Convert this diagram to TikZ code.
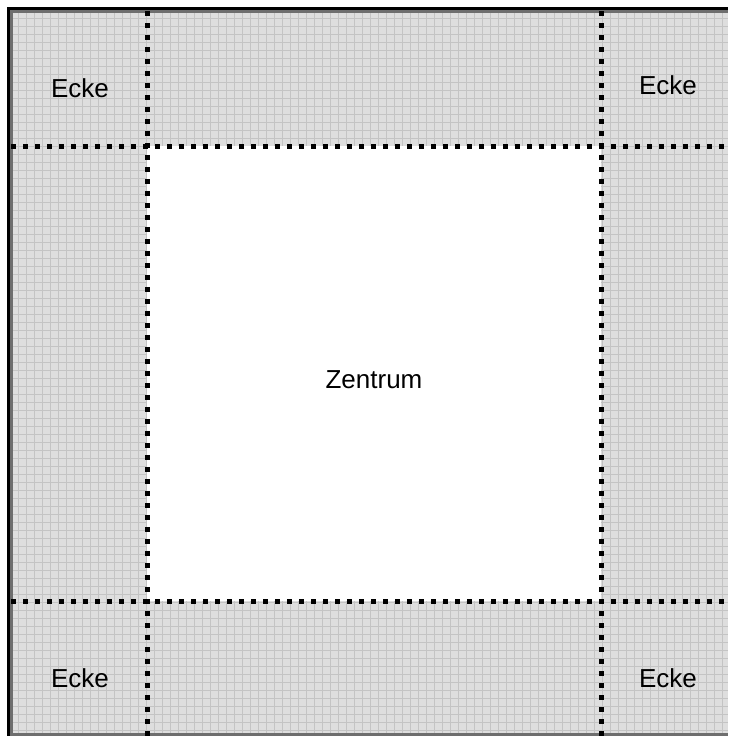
\documentclass[tikz,border=0pt]{standalone}
\usepackage{fontspec}
\setmainfont{Liberation Sans}
\usetikzlibrary{positioning}

\definecolor{tilegray}{RGB}{222,222,222}
\definecolor{gridgray}{RGB}{196,196,196}
\definecolor{bandgray}{RGB}{110,110,110}

\begin{document}
\begin{tikzpicture}[
    x=1pt, y=-1pt,
    divider/.style={line width=5pt, dash pattern=on 5pt off 7pt, black},
    border/.style={line width=3pt},
    gridline/.style={gridgray, line width=0.8pt},
    lbl/.style={font=\fontsize{26}{30}\selectfont, inner sep=0pt},
]
    \useasboundingbox (0,0) rectangle (728,736);

    % Tiled field
    \fill[tilegray] (8,8) rectangle (728,736);
    \foreach \gx in {18,26,...,728}
        \draw[gridline] (\gx,12) -- (\gx,734);
    \foreach \gy in {18,26,...,734}
        \draw[gridline] (12,\gy) -- (728,\gy);

    % Centre area
    \fill[white] (147,146) rectangle (601,601);

    % Frame
    \draw[border, bandgray] (11.5,736) -- (11.5,11.5) -- (728,11.5);
    \draw[border, bandgray] (11,734.5) -- (728,734.5);
    \draw[border, black] (8.5,736) -- (8.5,8.5) -- (728,8.5);

    % Dividers
    \draw[divider] (147,11) -- (147,736);
    \draw[divider] (601,11) -- (601,736);
    \draw[divider] (11,146) -- (728,146);
    \draw[divider] (11,601) -- (728,601);

    % Labels
    \node[lbl] (ecke-nw) at (80,88) {Ecke};
    \node[lbl] (ecke-ne) at (668,85) {Ecke};
    \node[lbl] (ecke-sw) at (80,678) {Ecke};
    \node[lbl] (ecke-se) at (668,678) {Ecke};
    \node[lbl] (zentrum) at (374,380) {Zentrum};
\end{tikzpicture}
\end{document}
